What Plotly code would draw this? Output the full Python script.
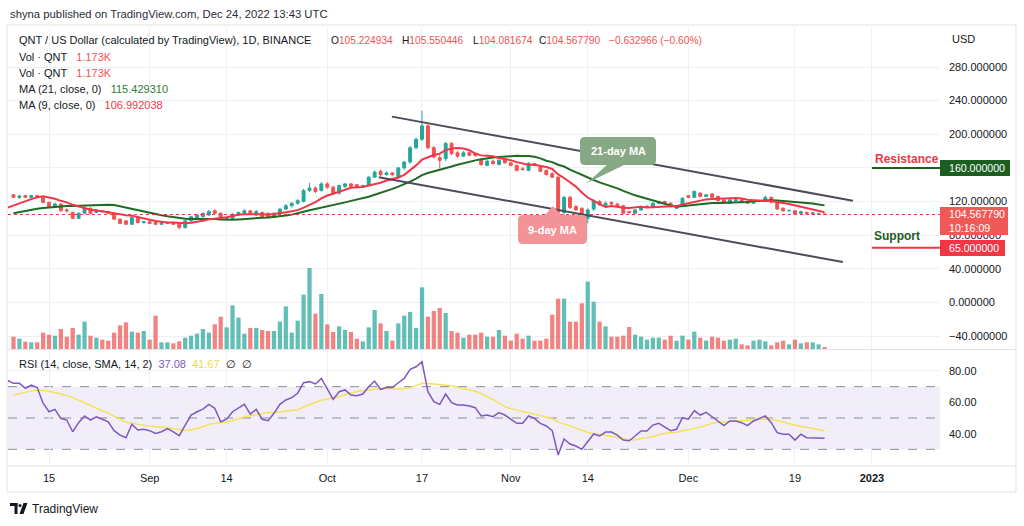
import numpy as np
import pandas as pd
import plotly.graph_objects as go

# ------------------------------------------------------------------ data
dates = pd.date_range("2022-08-09", "2022-12-24", freq="D")

opens = [128, 125, 127, 125, 127, 125, 119, 114, 117, 110,
         107, 100, 106, 112, 107, 109, 108, 106, 99, 97,
         93, 101, 95, 96, 95, 93, 94, 95, 94, 89,
         97, 101, 102, 104, 109, 106, 99, 100, 104, 106,
         109, 104, 107, 106, 101, 106, 111, 115, 118, 120,
         133, 136, 133, 141, 137, 130, 138, 141, 140, 138,
         139, 149, 156, 152, 154, 149, 160, 167, 184, 194,
         210, 184, 172, 171, 189, 178, 174, 178, 177, 170,
         163, 168, 164, 171, 166, 163, 159, 157, 165, 161,
         157, 153, 149, 107, 125, 114, 112, 100, 111, 120,
         115, 119, 117, 115, 108, 106, 110, 113, 113, 118,
         120, 118, 112, 116, 127, 125, 130, 126, 129, 126,
         122, 118, 121, 122, 120, 118, 120, 121, 125, 119,
         112, 109, 109, 106, 107, 105.5, 105, 105.224934]

highs = [129, 128, 128, 128, 128, 126, 120, 119, 118, 112,
         108, 107, 114, 113, 111, 110, 109, 107, 100, 98,
         102, 102, 97, 97, 96, 96, 96, 96, 95, 98,
         103, 105, 107, 110, 111, 107, 102, 106, 108, 111,
         110, 110, 108, 107, 107, 112, 117, 119, 123, 135,
         142, 138, 143, 143, 139, 140, 142, 142, 141, 140,
         150, 157, 158, 156, 155, 161, 168, 186, 196, 228,
         212, 186, 176, 191, 191, 180, 180, 179, 178, 171,
         170, 170, 171, 172, 167, 164, 161, 167, 166, 163,
         158, 155, 150, 127, 127, 116, 113, 112, 123, 122,
         120, 120, 118, 116, 109, 111, 115, 116, 119, 121,
         121, 119, 116, 125, 128, 133, 131, 129, 130, 127,
         123, 123, 123, 123, 121, 122, 122, 127, 126, 120,
         113, 110, 110, 109, 108, 107, 106.5, 105.550446]

lows = [124, 123, 124, 124, 124, 118, 113, 113, 108, 107,
        99, 99, 105, 105, 106, 107, 105, 98, 93, 92,
        92, 94, 94, 93, 92, 92, 93, 92, 87, 88,
        96, 100, 101, 103, 105, 98, 97, 99, 103, 105,
        105, 103, 101, 100, 100, 105, 110, 113, 116, 119,
        131, 130, 132, 135, 128, 128, 136, 137, 137, 137,
        138, 148, 150, 151, 150, 147, 158, 165, 182, 192,
        182, 171, 159, 168, 175, 172, 173, 174, 173, 162,
        162, 164, 163, 165, 162, 156, 157, 156, 162, 155,
        151, 148, 104, 104, 111, 109, 100, 94, 109, 115,
        114, 116, 113, 105, 105, 105, 109, 112, 112, 117,
        118, 113, 111, 115, 124, 124, 125, 125, 124, 120,
        117, 117, 120, 118, 117, 117, 119, 120, 118, 110,
        108, 108, 104, 105, 105, 105, 104.5, 104.081674]

closes = [125, 126.5, 125, 127, 125, 119, 114, 117, 109, 109,
          100, 106, 112, 106, 110, 108, 106, 99, 94, 93,
          101, 95, 96, 94, 93, 95, 95, 93, 89, 97,
          102, 104, 106, 108, 106, 99, 101, 105, 107, 109,
          106, 108, 102, 101, 106, 111, 115, 118, 121, 133,
          136, 132, 141, 137, 130, 139, 141, 138, 138, 139,
          149, 155, 152, 154, 152, 160, 167, 184, 194, 210,
          184, 173, 169, 189, 177, 174, 178, 175, 175, 164,
          168, 165, 169, 166, 163, 157, 158, 165, 163, 156,
          152, 149, 107, 125, 113, 110, 101, 110, 121, 116,
          118, 117, 114, 106, 107, 110, 114, 114, 118, 120,
          119, 114, 115, 124, 125, 132, 126, 128, 125, 121,
          118, 122, 122, 119, 118, 121, 121, 125, 119, 111,
          109, 109.5, 105, 108, 106, 106.5, 105.3, 104.567790]

volumes_k = [7.4, 6.2, 4.4, 4.0, 4.0, 9.8, 8.6, 8.0, 12.0, 7.4,
             12.6, 8.6, 16.4, 8.0, 6.8, 5.6, 5.0, 9.8, 14.2, 16.0,
             10.4, 9.8, 10.8, 5.6, 20.0, 4.0, 4.0, 3.4, 4.6, 6.8,
             8.0, 9.2, 12.0, 9.8, 14.8, 19.4, 13.0, 26.2, 18.8, 9.2,
             12.6, 12.6, 11.4, 10.8, 10.8, 16.4, 25.6, 9.8, 17.0, 32.6,
             48.6, 21.2, 33.0, 14.8, 10.2, 13.6, 11.4, 10.2, 6.2, 4.6,
             13.0, 23.4, 15.4, 10.8, 5.0, 15.4, 20.0, 22.2, 12.6, 37.0,
             19.4, 22.8, 24.6, 21.6, 10.8, 9.8, 6.8, 8.6, 8.6, 9.8,
             7.4, 7.4, 11.4, 8.0, 5.0, 9.2, 6.2, 8.0, 5.0, 5.0,
             6.2, 20.6, 30.2, 30.2, 16.4, 16.4, 27.4, 40.4, 28.4, 16.4,
             13.6, 7.4, 7.4, 8.0, 13.2, 8.6, 7.4, 5.6, 6.8, 6.8,
             5.6, 8.0, 5.0, 8.0, 5.6, 10.4, 6.8, 5.0, 7.4, 6.8,
             5.0, 5.6, 6.2, 2.8, 2.2, 5.0, 5.6, 4.6, 2.2, 4.0,
             5.0, 2.8, 5.6, 3.4, 4.0, 4.0, 2.8, 1.173]

rsi_vals = [72.1, 72.1, 68.9, 71, 69.4, 59.4, 54, 55.5, 49.8, 48.7,
            41.2, 47, 51.3, 48.7, 50.8, 49.2, 47.6, 41.9, 39.1, 37.4,
            46, 42.3, 42.8, 41.9, 40.2, 41.2, 43.2, 41.2, 38.7, 45.5,
            51.9, 54, 55.7, 58.7, 56.2, 47.6, 49.2, 54, 56.6, 58.7,
            52.5, 55.5, 49.2, 48.3, 53, 58.7, 61.5, 63, 65.8, 72.5,
            73.2, 71.7, 75.3, 69, 61.9, 66.8, 67.9, 64.7, 64.2, 65.3,
            70, 73.6, 68.3, 69.4, 69.4, 72.5, 75.3, 81.1, 82.7, 85.9,
            66.8, 60.4, 58.7, 65.3, 59.8, 58.3, 58.3, 57.6, 56.6, 51.3,
            51.9, 50.8, 53.4, 51.9, 49.2, 46.6, 46.6, 51.3, 49.8, 46.6,
            44.9, 41.9, 26.4, 36.6, 33.4, 32.1, 30, 34.9, 39.8, 38.5,
            41, 41, 39.1, 35.9, 35.5, 38.5, 41.7, 41.7, 45.5, 46.6,
            44, 41.9, 42.8, 50.2, 49.2, 54.7, 51.9, 53.6, 50.8, 48.1,
            45.1, 48.1, 48.1, 47, 45.1, 48.1, 49.5, 51.3, 47, 40.6,
            39.6, 39.6, 35.9, 39.6, 37.4, 37.4, 37.5, 37.08]

# closes / RSI before the visible window (warm-up for the moving averages)
pre_closes = [96, 98, 97, 99, 101, 100, 98, 99, 101, 100,
              99, 101, 102, 104, 105, 106, 108, 127, 130, 131]
pre_rsi = [55, 58, 62, 60, 63, 61, 66, 64, 62, 60, 70, 76, 74]

price_ticks = [-40, 0, 40, 80, 120, 160, 200, 240, 280]
rsi_ticks = [40, 60, 80]
date_ticks = ["2022-08-15", "2022-09-01", "2022-09-14", "2022-10-01", "2022-10-17",
              "2022-11-01", "2022-11-14", "2022-12-01", "2022-12-19", "2023-01-01"]
date_labels = ["15", "Sep", "14", "Oct", "17", "Nov", "14", "Dec", "19", "<b>2023</b>"]

channel_upper = [("2022-10-11 22:00", 221.0), ("2022-12-28 19:00", 121.0)]
channel_lower = [("2022-10-09 17:00", 149.0), ("2022-12-27 02:00", 48.0)]
resistance_level = 160
support_level = 65

header_values = dict(O="105.224934", H="105.550446", L="104.081674", C="104.567790",
                     chg="−0.632966 (−0.60%)", vol="1.173K", ma21="115.429310",
                     ma9="106.992038", rsi="37.08", rsi_ma="41.67")

# ------------------------------------------------------------------ derived
pre_dates = pd.date_range(end="2022-08-08", periods=len(pre_closes))
close_s = pd.Series(pre_closes + closes, index=pre_dates.append(dates))
ma9 = close_s.rolling(9).mean()
ma21 = close_s.rolling(21).mean()
pre_rsi_dates = pd.date_range(end="2022-08-08", periods=len(pre_rsi))
rsi_s = pd.Series(pre_rsi + rsi_vals, index=pre_rsi_dates.append(dates))
rsi_ma = rsi_s.rolling(14).mean()

UP, DN = "#26a69a", "#ef5350"
vol_colors = ["rgba(38,166,154,0.72)" if c >= o else "rgba(239,83,80,0.72)"
              for o, c in zip(opens, closes)]

FONT = "Liberation Sans, Arial, sans-serif"
TXT = "#131722"
GRID = "#eef0f4"

# pixel -> paper helpers (plot area: x 8..940, y 28..465)
L_PX, R_PX, T_PX, B_PX = 8, 940, 28, 465
W, H = R_PX - L_PX, B_PX - T_PX


def px(x):
    return (x - L_PX) / W


def py(y):
    return (B_PX - y) / H


fig = go.Figure()

# volume (overlay axis)
fig.add_trace(go.Bar(x=dates, y=volumes_k, marker=dict(color=vol_colors, line=dict(width=0)),
                     width=0.72 * 86400000, yaxis="y2", xaxis="x", hoverinfo="skip"))
# moving averages
fig.add_trace(go.Scatter(x=ma21.index, y=ma21.values, mode="lines",
                         line=dict(color="#1f6a23", width=2), yaxis="y", xaxis="x"))
fig.add_trace(go.Scatter(x=ma9.index, y=ma9.values, mode="lines",
                         line=dict(color="#f23645", width=2), yaxis="y", xaxis="x"))
# candles
fig.add_trace(go.Candlestick(x=dates, open=opens, high=highs, low=lows, close=closes,
                             increasing=dict(line=dict(color=UP, width=1), fillcolor=UP),
                             decreasing=dict(line=dict(color=DN, width=1), fillcolor=DN),
                             whiskerwidth=0, yaxis="y", xaxis="x"))
# RSI
fig.add_trace(go.Scatter(x=rsi_ma.index, y=rsi_ma.values, mode="lines",
                         line=dict(color="#f5e15b", width=1.5), yaxis="y3", xaxis="x"))
fig.add_trace(go.Scatter(x=rsi_s.index, y=rsi_s.values, mode="lines",
                         line=dict(color="#7e57c2", width=1.5), yaxis="y3", xaxis="x"))

x_start = pd.Timestamp("2022-08-09") - pd.Timedelta(hours=22.3)
x_end = pd.Timestamp("2022-08-09") + pd.Timedelta(hours=156.5 * 24)

# the 160 tick sits fully under the resistance price box, as in the reference
price_text = ["" if v == resistance_level else f"{v:.6f}".replace("-", "−") for v in price_ticks]

fig.update_layout(
    width=1024, height=526,
    margin=dict(l=L_PX, r=1024 - R_PX, t=T_PX, b=526 - B_PX),
    paper_bgcolor="white", plot_bgcolor="white", showlegend=False,
    font=dict(family=FONT, size=11, color=TXT),
    xaxis=dict(type="date", range=[x_start, x_end], domain=[0, 1], anchor="y3",
               tickmode="array", tickvals=date_ticks, ticktext=date_labels,
               showgrid=True, gridcolor=GRID, gridwidth=1, ticks="", showline=False,
               zeroline=False, rangeslider=dict(visible=False), ticklabelstandoff=5,
               tickfont=dict(size=11, color=TXT)),
    yaxis=dict(domain=[py(349), 1], range=[-55.4, 326.4], side="right", anchor="x",
               tickmode="array", tickvals=price_ticks, ticktext=price_text,
               showgrid=True, gridcolor=GRID, zeroline=False, showline=False, ticks="",
               ticklabelstandoff=8, tickfont=dict(size=11, color=TXT)),
    yaxis2=dict(overlaying="y", range=[0, 192.6], visible=False, anchor="x"),
    yaxis3=dict(domain=[0, py(350)], range=[20, 93.4], side="right", anchor="x",
                tickmode="array", tickvals=rsi_ticks, ticktext=[f"{v:.2f}" for v in rsi_ticks],
                showgrid=True, gridcolor=GRID, zeroline=False, showline=False, ticks="",
                ticklabelstandoff=8, tickfont=dict(size=11, color=TXT)),
)

shapes = []
# RSI band and levels
shapes.append(dict(type="rect", xref="paper", yref="y3", x0=0, x1=1, y0=30, y1=70,
                   fillcolor="rgba(126,87,194,0.10)", line=dict(width=0), layer="below"))
for lvl in (70, 50, 30):
    shapes.append(dict(type="line", xref="paper", yref="y3", x0=0, x1=1, y0=lvl, y1=lvl,
                       line=dict(color="#8a8d96", width=1, dash="dash"), layer="below"))
# current price dotted line
shapes.append(dict(type="line", xref="paper", yref="y", x0=0, x1=1,
                   y0=closes[-1], y1=closes[-1], line=dict(color="#f23645", width=1, dash="dot")))
# channel lines
for (d0, p0), (d1, p1) in (channel_upper, channel_lower):
    shapes.append(dict(type="line", xref="x", yref="y", x0=d0, y0=p0, x1=d1, y1=p1,
                       line=dict(color="#4a4d57", width=2)))
# resistance / support short lines
shapes.append(dict(type="line", xref="paper", yref="y", x0=px(872), x1=1,
                   y0=resistance_level, y1=resistance_level, line=dict(color="#1b5e20", width=2)))
shapes.append(dict(type="line", xref="paper", yref="y", x0=px(872), x1=1,
                   y0=support_level, y1=support_level, line=dict(color="#f23645", width=2)))


def rrect_path(x0, y0, x1, y1, r):
    def P(x, y):
        return f"{px(x):.5f},{py(y):.5f}"
    return (f"M{P(x0 + r, y0)} L{P(x1 - r, y0)} Q{P(x1, y0)} {P(x1, y0 + r)} "
            f"L{P(x1, y1 - r)} Q{P(x1, y1)} {P(x1 - r, y1)} L{P(x0 + r, y1)} "
            f"Q{P(x0, y1)} {P(x0, y1 - r)} L{P(x0, y0 + r)} Q{P(x0, y0)} {P(x0 + r, y0)} Z")


def tri_path(pts):
    return "M" + " L".join(f"{px(x):.5f},{py(y):.5f}" for x, y in pts) + " Z"


GREEN_BOX = "#86a884"
RED_BOX = "#f29397"
shapes.append(dict(type="path", xref="paper", yref="paper", path=rrect_path(580, 137, 656, 165, 5),
                   fillcolor=GREEN_BOX, line=dict(width=0)))
shapes.append(dict(type="path", xref="paper", yref="paper",
                   path=tri_path([(608, 164), (626, 164), (587, 183)]),
                   fillcolor=GREEN_BOX, line=dict(width=0)))
shapes.append(dict(type="path", xref="paper", yref="paper", path=rrect_path(518, 215, 587, 244, 5),
                   fillcolor=RED_BOX, line=dict(width=0)))
shapes.append(dict(type="path", xref="paper", yref="paper",
                   path=tri_path([(544, 216), (562, 216), (553, 206)]),
                   fillcolor=RED_BOX, line=dict(width=0)))

# price-scale labels (boxes)
shapes.append(dict(type="rect", xref="paper", yref="paper", x0=px(940), x1=px(1010),
                   y0=py(176), y1=py(160), fillcolor="#1b5e20", line=dict(width=0)))
shapes.append(dict(type="rect", xref="paper", yref="paper", x0=px(940), x1=px(1008),
                   y0=py(235), y1=py(207), fillcolor="#ef5a57", line=dict(width=0)))
shapes.append(dict(type="rect", xref="paper", yref="paper", x0=px(940), x1=px(1005),
                   y0=py(256), y1=py(240), fillcolor="#f23645", line=dict(width=0)))

# frame and separators
FRAME = "#e0e3eb"
shapes.append(dict(type="rect", xref="paper", yref="paper", x0=px(7), x1=px(1016),
                   y0=py(492), y1=py(25), line=dict(color=FRAME, width=1)))
shapes.append(dict(type="line", xref="paper", yref="paper", x0=px(7), x1=px(1016),
                   y0=py(349.5), y1=py(349.5), line=dict(color=FRAME, width=1)))
shapes.append(dict(type="line", xref="paper", yref="paper", x0=px(7), x1=px(1016),
                   y0=py(466), y1=py(466), line=dict(color=FRAME, width=1)))

# TradingView logo glyph
LOGO = "#131722"
shapes.append(dict(type="rect", xref="paper", yref="paper", x0=px(10), x1=px(17.5),
                   y0=py(506), y1=py(503), fillcolor=LOGO, line=dict(width=0)))
shapes.append(dict(type="rect", xref="paper", yref="paper", x0=px(14.5), x1=px(17.5),
                   y0=py(514), y1=py(503), fillcolor=LOGO, line=dict(width=0)))
shapes.append(dict(type="circle", xref="paper", yref="paper", x0=px(18.5), x1=px(21.5),
                   y0=py(507), y1=py(504), fillcolor=LOGO, line=dict(width=0)))
shapes.append(dict(type="path", xref="paper", yref="paper",
                   path=tri_path([(23.5, 503), (27.5, 503), (23.5, 514), (19.5, 514)]),
                   fillcolor=LOGO, line=dict(width=0)))

fig.update_layout(shapes=shapes)

ann = []


def txt(x, y, s, size=11, color=TXT, xanchor="left", **kw):
    ann.append(dict(x=px(x), y=py(y), xref="paper", yref="paper", text=s, showarrow=False,
                    xanchor=xanchor, yanchor="middle", font=dict(size=size, color=color, family=FONT),
                    **kw))


def red(s):
    return f"<span style='color:#ef5350'>{s}</span>"


txt(8, 14, "shyna published on TradingView.com, Dec 24, 2022 13:43 UTC", size=11.3, color="#2a2e39")
txt(17, 40, "QNT / US Dollar (calculated by TradingView), 1D, BINANCE")
VS = 10.2
txt(329, 40, "O" + red(header_values["O"]), size=VS)
txt(400, 40, "H" + red(header_values["H"]), size=VS)
txt(471, 40, "L" + red(header_values["L"]), size=VS)
txt(537, 40, "C" + red(header_values["C"]), size=VS)
txt(607, 40, red(header_values["chg"]), size=VS)
txt(17, 57, "Vol · QNT   " + red(header_values["vol"]))
txt(17, 73, "Vol · QNT   " + red(header_values["vol"]))
txt(17, 89, "MA (21, close, 0)   <span style='color:#2e7d32'>" + header_values["ma21"] + "</span>")
txt(17, 105, "MA (9, close, 0)   <span style='color:#f23645'>" + header_values["ma9"] + "</span>")
txt(17, 364, "RSI (14, close, SMA, 14, 2)  <span style='color:#7e57c2'>" + header_values["rsi"]
    + "</span>  <span style='color:#f2d64b'>" + header_values["rsi_ma"] + "</span>  ∅  ∅")
txt(950, 39, "USD")

txt(618, 151, "<b>21-day MA</b>", size=11, color="white", xanchor="center")
txt(552, 229.5, "<b>9-day MA</b>", size=11, color="white", xanchor="center")
txt(873, 159, "<b>Resistance</b>", size=12, color="#f23645")
txt(872, 236, "<b>Support</b>", size=12, color="#1b5e20")

BS = 10.6
txt(947, 168, "160.000000", color="white", size=BS)
txt(947, 214, header_values["C"], color="white", size=BS)
txt(947, 228, "10:16:09", color="white", size=BS)
txt(947, 248, "65.000000", color="white", size=BS)

txt(30, 509, "TradingView", size=12, color=TXT)

fig.update_layout(annotations=ann)

fig.write_html("out.html")
